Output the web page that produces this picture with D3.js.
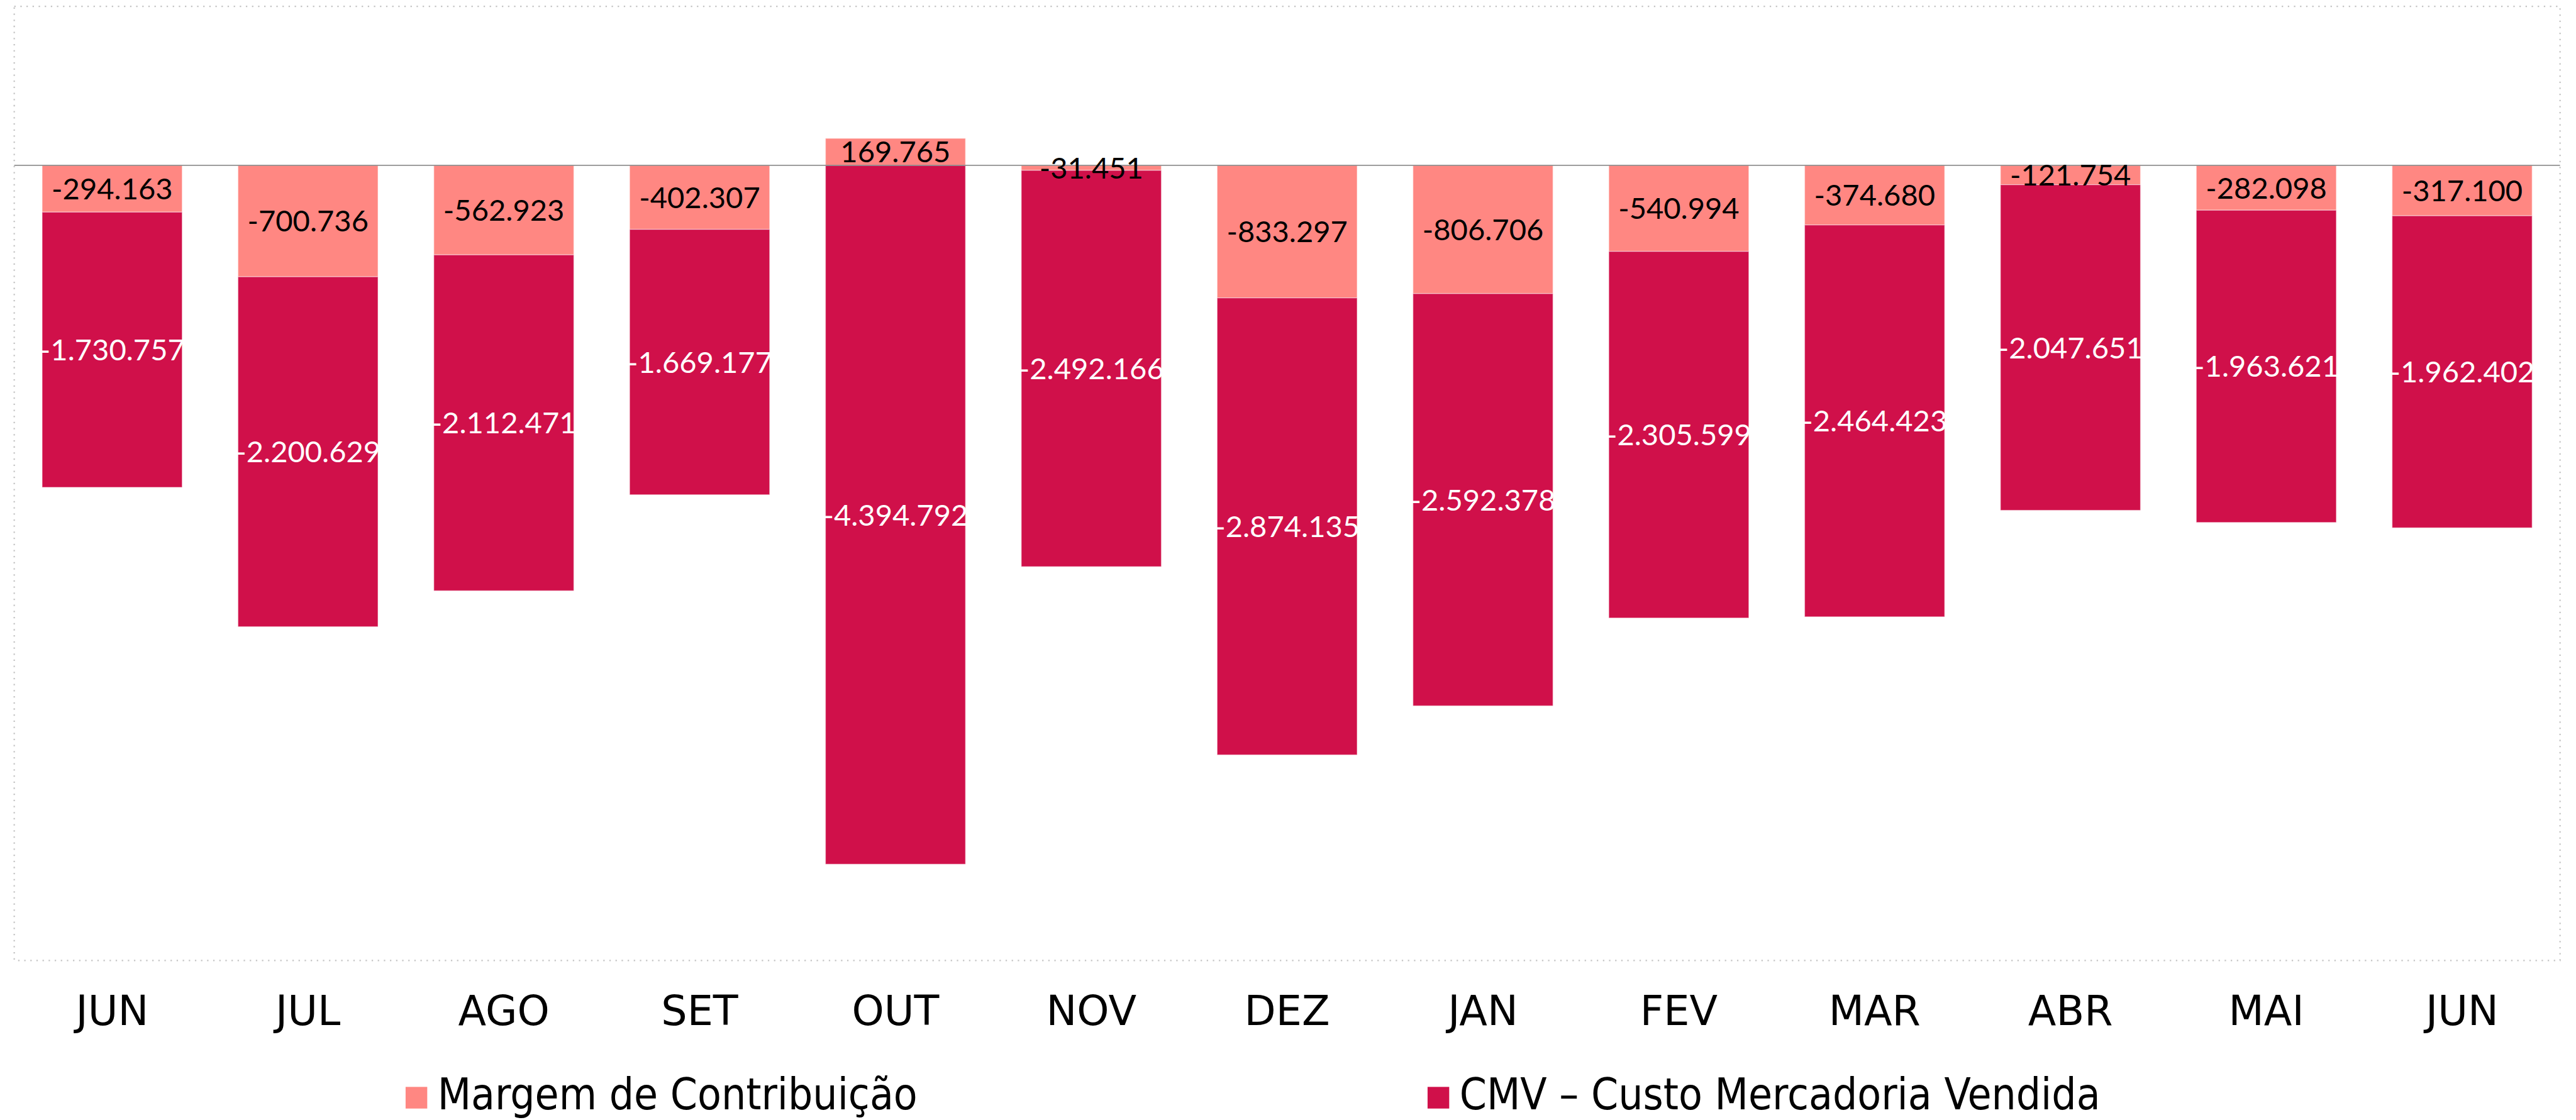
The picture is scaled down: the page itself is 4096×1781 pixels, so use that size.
<!DOCTYPE html>
<html lang="pt">
<head>
<meta charset="UTF-8">
<title>Margem x CMV</title>
<style>
  html, body { margin: 0; padding: 0; background: #fff; }
  svg { display: block; }
</style>
</head>
<body>
<div id="chart"></div>
<script src="https://d3js.org/d3.v7.min.js"></script>
<script>
// dados
const MONTHS = ["JUN", "JUL", "AGO", "SET", "OUT", "NOV", "DEZ", "JAN", "FEV", "MAR", "ABR", "MAI", "JUN"];
const MARGEM = [-294163, -700736, -562923, -402307, 169765, -31451, -833297, -806706, -540994, -374680, -121754, -282098, -317100];
const CMV = [-1730757, -2200629, -2112471, -1669177, -4394792, -2492166, -2874135, -2592378, -2305599, -2464423, -2047651, -1963621, -1962402];
const SERIES = ["Margem de Contribuição", "CMV – Custo Mercadoria Vendida"];
const COLORS = ["#FF8782", "#D0104A"];
const LABEL_COLORS = ["#000", "#fff"];
const Y_DOMAIN = [-5000000, 1000000];

// medidas no tamanho original (4522 x 1966), reduzido pelo viewBox
const W = 4522, H = 1966;
const PLOT = { left: 25, right: 4494, top: 11, bottom: 1686 };

const ptBR = d3.formatLocale({ decimal: ",", thousands: ".", grouping: [3], currency: ["R$", ""], minus: "-" });
const fmt = ptBR.format(",d");

const rows = MONTHS.map((m, i) => ({ i: i, margem: MARGEM[i], cmv: CMV[i] }));
const stacked = d3.stack()
    .keys(["margem", "cmv"])
    .offset(d3.stackOffsetDiverging)(rows);

const x = d3.scaleBand()
    .domain(d3.range(MONTHS.length))
    .range([PLOT.left, PLOT.right])
    .paddingInner(0.285)
    .paddingOuter(0.1425);

const y = d3.scaleLinear()
    .domain(Y_DOMAIN)
    .range([PLOT.bottom, PLOT.top]);

const svg = d3.select("#chart")
    .append("svg")
    .attr("width", 4096)
    .attr("height", 1781)
    .attr("viewBox", `0 0 ${W} ${H}`);

// moldura pontilhada
svg.append("rect")
    .attr("x", PLOT.left)
    .attr("y", PLOT.top)
    .attr("width", PLOT.right - PLOT.left)
    .attr("height", PLOT.bottom - PLOT.top)
    .attr("fill", "none")
    .attr("stroke", "#c4c4c4")
    .attr("stroke-width", 2.5)
    .attr("stroke-dasharray", "2.5 8.2");

// barras empilhadas
const layers = svg.selectAll("g.layer")
    .data(stacked)
    .enter()
    .append("g")
    .attr("class", "layer")
    .attr("fill", (d, k) => COLORS[k]);

layers.selectAll("rect")
    .data(d => d)
    .enter()
    .append("rect")
    .attr("x", d => x(d.data.i))
    .attr("width", x.bandwidth())
    .attr("y", d => y(Math.max(d[0], d[1])))
    .attr("height", d => Math.abs(y(d[0]) - y(d[1])))
    .attr("stroke", "#fff")
    .attr("stroke-opacity", 0.45)
    .attr("stroke-width", 1.5);

// linha do zero
svg.append("line")
    .attr("x1", PLOT.left)
    .attr("x2", PLOT.right)
    .attr("y1", y(0))
    .attr("y2", y(0))
    .attr("stroke", "#8f8f8f")
    .attr("stroke-width", 2);

// rótulos de dados
stacked.forEach((layer, k) => {
    svg.append("g")
        .selectAll("text")
        .data(layer)
        .enter()
        .append("text")
        .attr("x", d => x(d.data.i) + x.bandwidth() / 2)
        .attr("y", d => (y(d[0]) + y(d[1])) / 2)
        .attr("dy", "0.36em")
        .attr("text-anchor", "middle")
        .attr("font-family", "Lato, 'Open Sans', sans-serif")
        .attr("font-size", 52)
        .attr("fill", LABEL_COLORS[k])
        .text(d => fmt(d.data[layer.key]));
});

// eixo x
const xAxis = svg.append("g")
    .attr("transform", `translate(0, ${PLOT.bottom})`)
    .call(d3.axisBottom(x).tickSize(0).tickPadding(62).tickFormat(i => MONTHS[i]));
xAxis.select(".domain").remove();
xAxis.selectAll("text")
    .attr("font-family", "'DejaVu Sans', sans-serif")
    .attr("font-size", 72)
    .attr("fill", "#000");

// legenda
const LEGEND_X = [712, 2506];
const legend = svg.append("g");
SERIES.forEach((name, k) => {
    legend.append("rect")
        .attr("x", LEGEND_X[k])
        .attr("y", 1908)
        .attr("width", 38)
        .attr("height", 38)
        .attr("fill", COLORS[k]);
    legend.append("text")
        .attr("x", LEGEND_X[k] + 56)
        .attr("y", 1947)
        .attr("font-family", "'DejaVu Sans Condensed', 'DejaVu Sans', sans-serif")
        .attr("font-size", 76)
        .attr("fill", "#000")
        .text(name);
});
</script>
</body>
</html>
